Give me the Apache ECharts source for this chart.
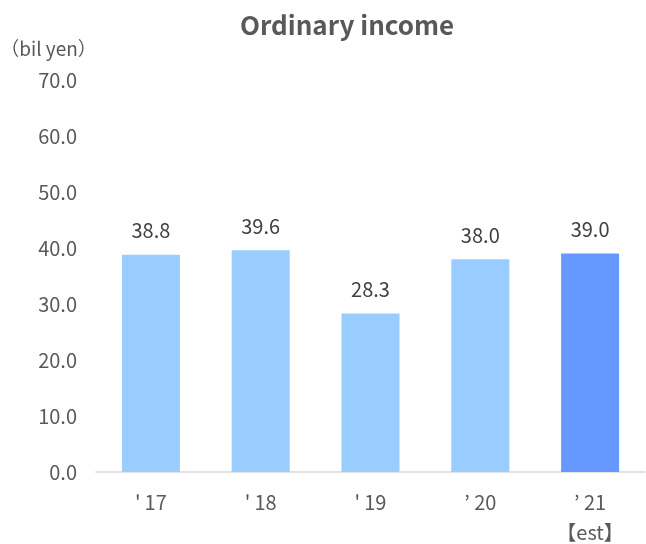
<!DOCTYPE html>
<html><head><meta charset="utf-8">
<script src="https://cdn.jsdelivr.net/npm/echarts@6/dist/echarts.min.js"></script>
<style>html,body{margin:0;padding:0;background:#fff}#c{width:646px;height:544px}</style>
</head><body><div id="c"></div>
<script>
var categories = ["'\u200917", "'\u200918", "'\u200919", "’ 20", "’ 21\n【est】"];
var values = [38.8, 39.6, 28.3, 38.0, 39.0];
var highlightIndex = 4;
var yTicks = [0, 10, 20, 30, 40, 50, 60, 70];

var font = "'Noto Sans CJK JP', 'Noto Sans', sans-serif";
var chart = echarts.init(document.getElementById('c'));
chart.setOption({
  animation: false,
  title: {
    text: 'Ordinary income', left: 235, top: 7,
    textStyle: { fontFamily: font, fontSize: 26, fontWeight: 'bold', color: '#595959' }
  },
  grid: { left: 96, right: 1, top: 80, bottom: 72, containLabel: false, outerBoundsMode: 'none' },
  xAxis: {
    type: 'category', data: categories,
    axisLine: { lineStyle: { color: '#d9d9d9', width: 1.5 } },
    axisTick: { show: false },
    axisLabel: { fontFamily: font, fontSize: 20, color: '#595959', margin: 15, lineHeight: 30 }
  },
  yAxis: {
    type: 'value', min: yTicks[0], max: yTicks[yTicks.length - 1], interval: 10,
    name: '（bil yen）', nameLocation: 'end', nameGap: 22,
    nameTextStyle: { fontFamily: font, fontSize: 19, color: '#595959', align: 'center', padding: [0, 0, 0, -95] },
    axisLine: { show: false }, axisTick: { show: false },
    splitLine: { show: false },
    axisLabel: { fontFamily: font, fontSize: 20, color: '#595959', margin: 19,
      formatter: function (v) { return v.toFixed(1); } }
  },
  series: [{
    type: 'bar', barWidth: 58,
    data: values.map(function (v, i) {
      return { value: v, itemStyle: { color: i === highlightIndex ? '#6699FF' : '#99CCFF' } };
    }),
    label: { show: true, position: 'top', distance: 14, fontFamily: font, fontSize: 20, color: '#404040',
      formatter: function (p) { return p.value.toFixed(1); } }
  }]
});
</script></body></html>
